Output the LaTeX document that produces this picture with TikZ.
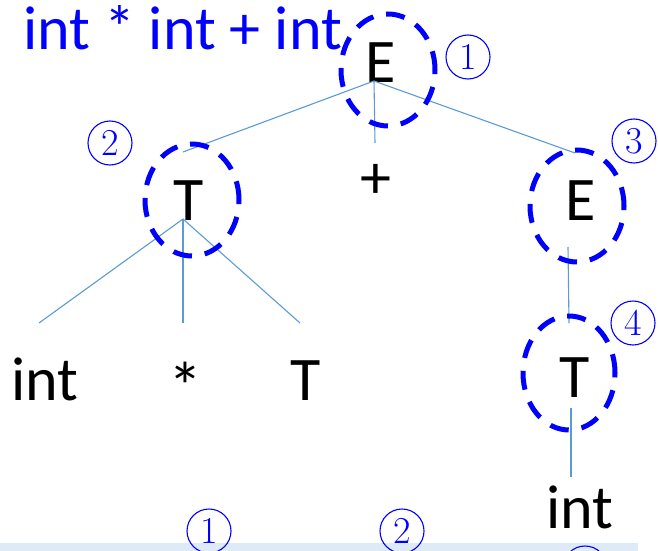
\documentclass[tikz,border=0pt]{standalone}
\usepackage{fontspec}
\newfontfamily\calib{Carlito}
\definecolor{edgecol}{HTML}{5B9BD5}
\definecolor{bandcol}{HTML}{DEEBF7}
\definecolor{hlblue}{HTML}{0000FF}
\begin{document}
\begin{tikzpicture}[x=1pt,y=-1pt,
  sym/.style={font=\calib\fontsize{62}{62}\selectfont, inner sep=0pt, anchor=base},
  ttl/.style={sym, text=hlblue, anchor=base west},
  edge/.style={draw=edgecol, line width=1.1pt},
  hl/.style={draw=hlblue, line width=5pt, dash pattern=on 19pt off 13pt},
  circnum/.style={circle, draw=hlblue, line width=1.1pt, minimum size=44pt, inner sep=0pt, text=hlblue, font=\fontsize{38}{38}\selectfont}]
\useasboundingbox (0,0) rectangle (658,551);
\clip (0,0) rectangle (658,551);
% band
\fill[bandcol] (0,543) rectangle (638,551);
% title
\node[ttl] (title) at (23,49) {int * int + int};
% symbols
\node[sym] (E1) at (381,82) {E};
\node[sym] (plus) at (376,198) {+};
\node[sym] (T1) at (189,220) {T};
\node[sym] (E2) at (581,220) {E};
\node[sym, anchor=base west] (int1) at (11,400) {int};
\node[sym, scale=1.1] (star) at (185,410) {*};
\node[sym] (T3) at (306,400) {T};
\node[sym] (T2) at (575,397) {T};
\node[sym] (int2) at (580,528) {int};
% connector ends
\coordinate (E1foot) at (374,81);
\coordinate (T1head) at (183,152);
\coordinate (plushead) at (375,143);
\coordinate (E2head) at (575,153);
\coordinate (T1foot) at (183,219);
\coordinate (int1head) at (39,323);
\coordinate (starhead) at (183,323);
\coordinate (T3head) at (300,323);
\coordinate (E2foot) at (568,247);
\coordinate (T2head) at (569,323);
\coordinate (T2foot) at (571,408);
\coordinate (int2head) at (571,477);
\draw[edge] (E1foot) -- (T1head);
\draw[edge] (E1foot) -- (plushead);
\draw[edge] (E1foot) -- (E2head);
\draw[edge] (T1foot) -- (int1head);
\draw[edge] (T1foot) -- (starhead);
\draw[edge] (T1foot) -- (T3head);
\draw[edge] (E2foot) -- (T2head);
\draw[edge] (T2foot) -- (int2head);
% dashed highlights
\draw[hl] (388,70) ellipse [x radius=47pt, y radius=56pt];
\draw[hl] (192,200) ellipse [x radius=47pt, y radius=56pt];
\draw[hl] (577,206) ellipse [x radius=47pt, y radius=56pt];
\draw[hl] (569,373) ellipse [x radius=46pt, y radius=57pt];
% circled numbers
\node[circnum] (n1) at (468,57) {1};
\node[circnum] (n2) at (110,143) {2};
\node[circnum] (n3) at (634,141) {3};
\node[circnum] (n4) at (633,323) {4};
\node[circnum] (b1) at (209,531) {1};
\node[circnum] (b2) at (402,531) {2};
\node[circnum] (b3) at (585,568) {3};
\end{tikzpicture}
\end{document}
